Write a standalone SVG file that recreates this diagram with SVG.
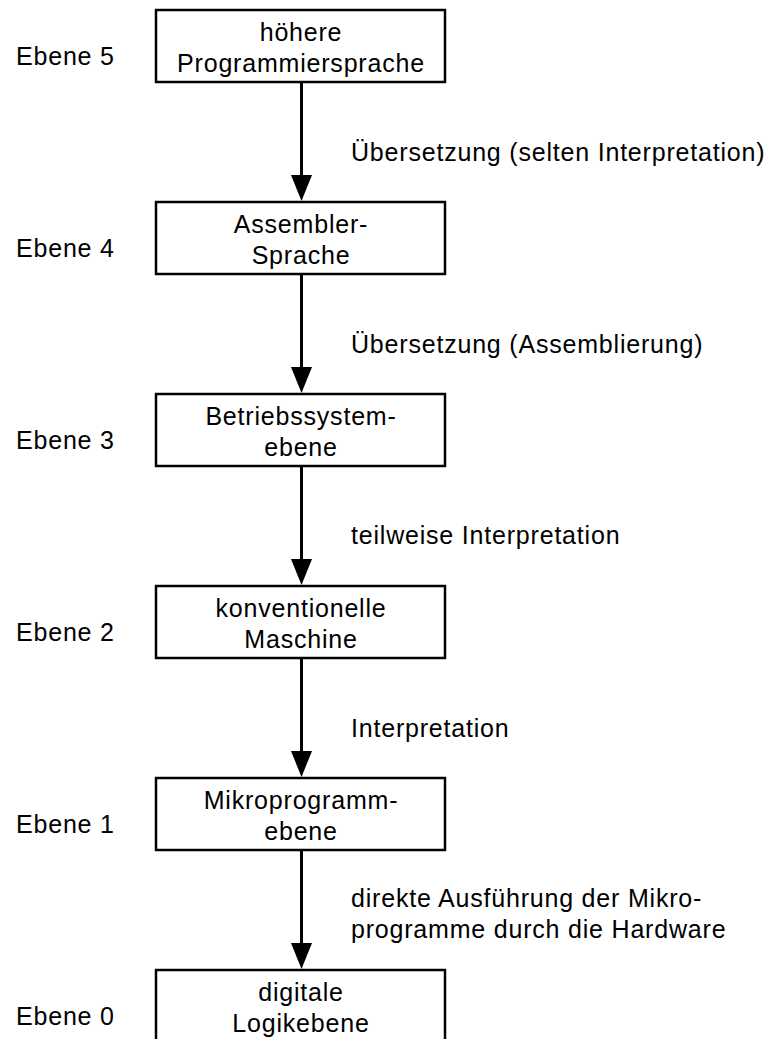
<svg xmlns="http://www.w3.org/2000/svg" width="771" height="1039" viewBox="0 0 771 1039">
<style>
text{font-family:"Liberation Sans",Arial,sans-serif;font-size:25px;letter-spacing:0.8px;fill:#000}
.box{fill:#fff;stroke:#000;stroke-width:2.5}
.c{text-anchor:middle}
.ln{stroke:#000;stroke-width:3;fill:none}
.ah{fill:#000}
</style>
<rect width="771" height="1039" fill="#fff"/>
<g id="connectors">
<g id="e54"><line class="ln" x1="301.5" y1="82" x2="301.5" y2="178"/><polygon class="ah" points="291,175 312,175 301.5,201"/></g>
<g id="e43"><line class="ln" x1="301.5" y1="274" x2="301.5" y2="370"/><polygon class="ah" points="291,367 312,367 301.5,393"/></g>
<g id="e32"><line class="ln" x1="301.5" y1="466" x2="301.5" y2="562"/><polygon class="ah" points="291,559 312,559 301.5,585"/></g>
<g id="e21"><line class="ln" x1="301.5" y1="658" x2="301.5" y2="754"/><polygon class="ah" points="291,751 312,751 301.5,777"/></g>
<g id="e10"><line class="ln" x1="301.5" y1="850" x2="301.5" y2="946"/><polygon class="ah" points="291,943 312,943 301.5,969"/></g>
<text x="351" y="161">Übersetzung (selten Interpretation)</text>
<text x="351" y="353">Übersetzung (Assemblierung)</text>
<text x="351" y="544">teilweise Interpretation</text>
<text x="351" y="737">Interpretation</text>
<text x="351" y="907">direkte Ausführung der Mikro-</text>
<text x="351" y="938">programme durch die Hardware</text>
</g>
<g id="level5">
<text x="16" y="65">Ebene 5</text>
<rect class="box" x="156" y="10" width="289" height="72"/>
<text class="c" x="301" y="41">höhere</text>
<text class="c" x="301" y="72">Programmiersprache</text>
</g>
<g id="level4">
<text x="16" y="257">Ebene 4</text>
<rect class="box" x="156" y="202" width="289" height="72"/>
<text class="c" x="301" y="233">Assembler-</text>
<text class="c" x="301" y="264">Sprache</text>
</g>
<g id="level3">
<text x="16" y="449">Ebene 3</text>
<rect class="box" x="156" y="394" width="289" height="72"/>
<text class="c" x="301" y="425">Betriebssystem-</text>
<text class="c" x="301" y="456">ebene</text>
</g>
<g id="level2">
<text x="16" y="641">Ebene 2</text>
<rect class="box" x="156" y="586" width="289" height="72"/>
<text class="c" x="301" y="617">konventionelle</text>
<text class="c" x="301" y="648">Maschine</text>
</g>
<g id="level1">
<text x="16" y="833">Ebene 1</text>
<rect class="box" x="156" y="778" width="289" height="72"/>
<text class="c" x="301" y="809">Mikroprogramm-</text>
<text class="c" x="301" y="840">ebene</text>
</g>
<g id="level0">
<text x="16" y="1025">Ebene 0</text>
<rect class="box" x="156" y="970" width="289" height="80"/>
<text class="c" x="301" y="1001">digitale</text>
<text class="c" x="301" y="1032">Logikebene</text>
</g>
</svg>
